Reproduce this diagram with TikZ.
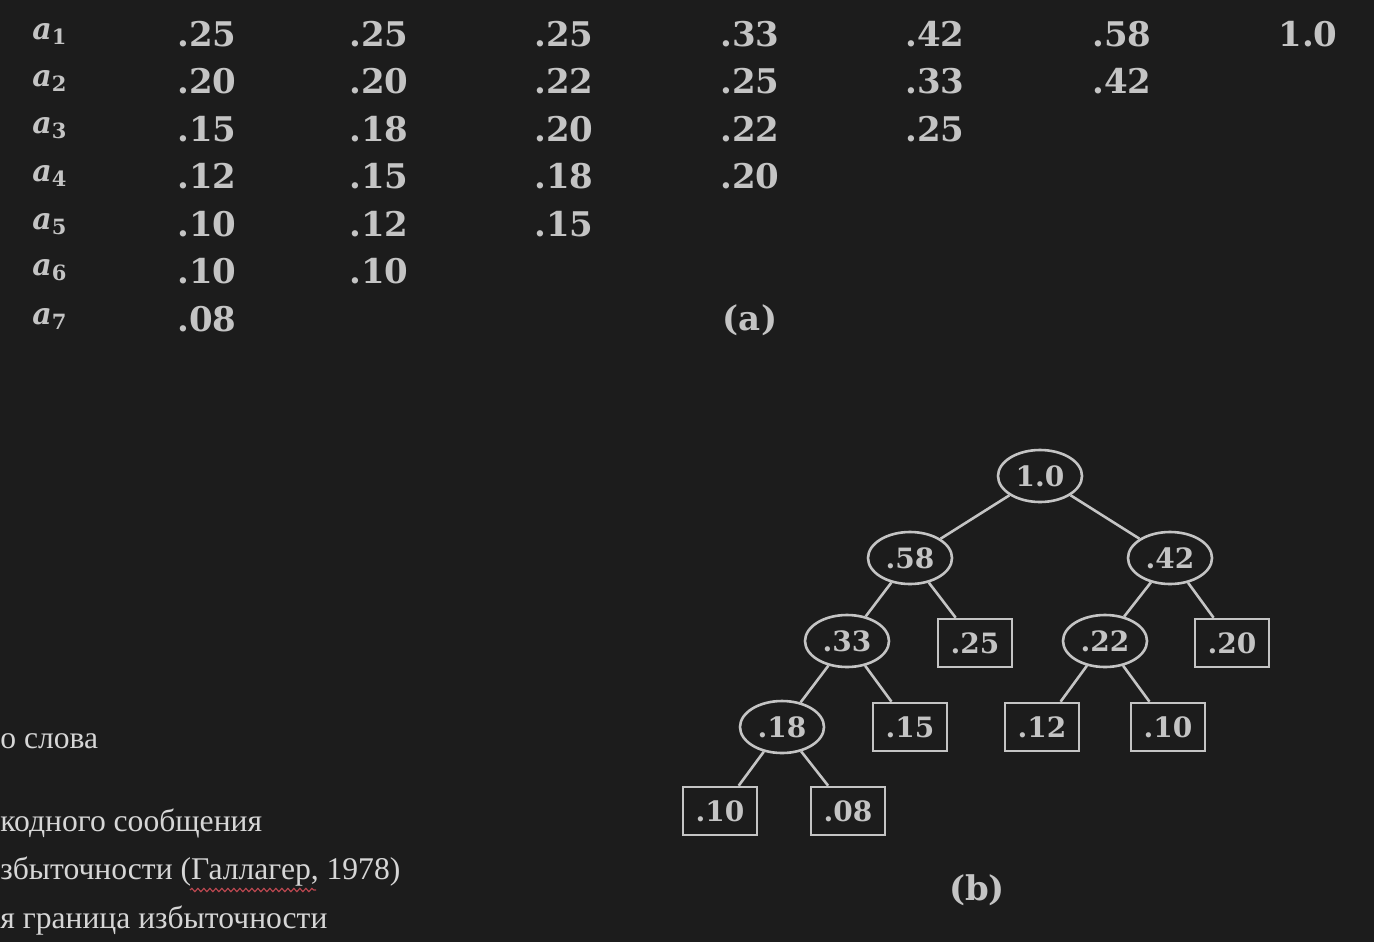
\documentclass[tikz,border=0pt]{standalone}
\usepackage{fontspec}
\setmainfont{Liberation Serif}
\newfontfamily\numfont{DejaVu Serif}
\usetikzlibrary{shapes.geometric,decorations.pathmorphing}
\definecolor{bg}{HTML}{1C1C1C}
\definecolor{ink}{HTML}{C4C4C4}
\definecolor{txt}{HTML}{D6D6D6}
\definecolor{squig}{HTML}{B8474F}
\tikzset{
  num/.style={text=ink,inner sep=0pt,font=\numfont\bfseries\fontsize{17}{17}\selectfont},
  lab/.style={text=ink,inner sep=0pt,font=\numfont\bfseries\itshape\fontsize{15}{15}\selectfont},
  sumnode/.style={ellipse,draw=ink,line width=1.3pt,minimum width=42pt,minimum height=26pt,
    inner sep=0pt,text=ink,font=\numfont\bfseries\fontsize{14}{14}\selectfont},
  leaf/.style={rectangle,draw=ink,line width=1.3pt,minimum width=37pt,minimum height=24pt,
    inner sep=0pt,text=ink,font=\numfont\bfseries\fontsize{14}{14}\selectfont},
  edge/.style={draw=ink,line width=1.3pt},
  ru/.style={text=txt,anchor=base west,inner sep=0pt,font=\fontsize{15.8}{15.8}\selectfont}
}
\begin{document}
\begin{tikzpicture}[x=.5pt,y=-.5pt]
\fill[bg] (0,0) rectangle (1374,942);
\clip (0,0) rectangle (1374,942);
% symbols
\foreach \i/\y in {1/34,2/81,3/128,4/176,5/224,6/270,7/319}
  \node[lab] (a\i) at (50,\y) {a\textsubscript{\upshape\i}};
% table (a)
\foreach \v [count=\i] in {.25,.20,.15,.12,.10,.10,.08}
  \node[num] (c1r\i) at (207,{34+47.5*(\i-1)}) {\v};
\foreach \v [count=\i] in {.25,.20,.18,.15,.12,.10}
  \node[num] (c2r\i) at (379,{34+47.5*(\i-1)}) {\v};
\foreach \v [count=\i] in {.25,.22,.20,.18,.15}
  \node[num] (c3r\i) at (564,{34+47.5*(\i-1)}) {\v};
\foreach \v [count=\i] in {.33,.25,.22,.20}
  \node[num] (c4r\i) at (750,{34+47.5*(\i-1)}) {\v};
\foreach \v [count=\i] in {.42,.33,.25}
  \node[num] (c5r\i) at (935,{34+47.5*(\i-1)}) {\v};
\foreach \v [count=\i] in {.58,.42}
  \node[num] (c6r\i) at (1122,{34+47.5*(\i-1)}) {\v};
\node[num] (c7r1) at (1308,34) {1.0};
\node[num] (capa) at (750,320) {(a)};
% tree (b)
\node[sumnode] (root) at (1040,476) {1.0};
\node[sumnode] (s58) at (910,558) {.58};
\node[sumnode] (s42) at (1170,558) {.42};
\node[sumnode] (s33) at (847,641) {.33};
\node[leaf] (l25) at (975,643) {.25};
\node[sumnode] (s22) at (1105,641) {.22};
\node[leaf] (l20) at (1232,643) {.20};
\node[sumnode] (s18) at (782,727) {.18};
\node[leaf] (l15) at (910,727) {.15};
\node[leaf] (l12) at (1042,727) {.12};
\node[leaf] (l10b) at (1168,727) {.10};
\node[leaf] (l10a) at (720,811) {.10};
\node[leaf] (l08) at (848,811) {.08};
\draw[edge] (root) -- (s58);
\draw[edge] (root) -- (s42);
\draw[edge] (s58) -- (s33);
\draw[edge] (s58) -- (l25);
\draw[edge] (s42) -- (s22);
\draw[edge] (s42) -- (l20);
\draw[edge] (s33) -- (s18);
\draw[edge] (s33) -- (l15);
\draw[edge] (s22) -- (l12);
\draw[edge] (s22) -- (l10b);
\draw[edge] (s18) -- (l10a);
\draw[edge] (s18) -- (l08);
\node[num] (capb) at (977,890) {(b)};
% cut-off text on the left
\node[ru] (t1) at (0,748) {о слова};
\node[ru] (t2) at (0,831) {кодного сообщения};
\node[ru] (t3) at (0,879) {збыточности (Галлагер, 1978)};
\node[ru] (t4) at (0,928) {я граница избыточности};
\draw[squig,line width=.6pt,decorate,decoration={snake,amplitude=.8pt,segment length=3pt}]
  (190,890) -- (316,890);
\end{tikzpicture}
\end{document}
